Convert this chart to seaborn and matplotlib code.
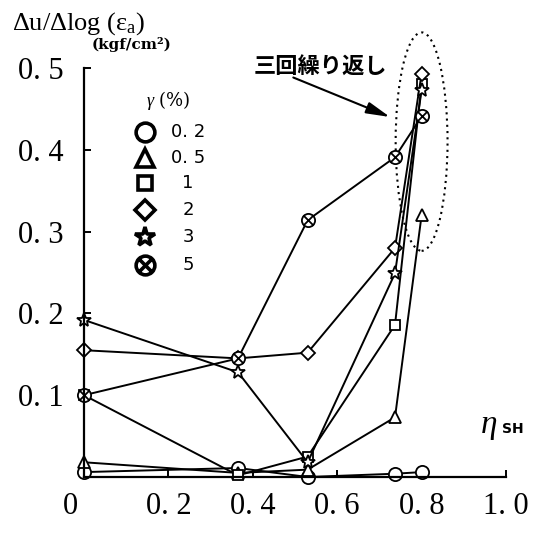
import numpy as np
import pandas as pd
import matplotlib
matplotlib.use("Agg")
import matplotlib.pyplot as plt
import matplotlib.transforms as mtransforms
from matplotlib.path import Path
from matplotlib.patches import Ellipse
from matplotlib.lines import Line2D
import seaborn as sns

# Shear strain amplitude γ (%) and the measured points (η_SH, Δu/Δlog(εa))
gamma_levels = ["0. 2", "0. 5", "1", "2", "3", "5"]
eta_points = [0.0, 0.365, 0.53, 0.737, 0.80]
du_g02 = [0.006, 0.011, 0.0, 0.004, 0.006]
du_g05 = [0.018, 0.005, 0.009, 0.073, 0.32]
du_g1 = [0.10, 0.002, 0.025, 0.186, 0.48]
du_g2 = [0.155, 0.145, 0.152, 0.28, 0.493]
du_g3 = [0.192, 0.128, 0.018, 0.249, 0.473]
du_g5 = [0.10, 0.145, 0.314, 0.391, 0.441]

x_ticks = [0, 0.2, 0.4, 0.6, 0.8, 1.0]
x_ticklabels = ["0", "0. 2", "0. 4", "0. 6", "0. 8", "1. 0"]
y_ticks = [0.1, 0.2, 0.3, 0.4, 0.5]
y_ticklabels = ["0. 1", "0. 2", "0. 3", "0. 4", "0. 5"]

series = [du_g02, du_g05, du_g1, du_g2, du_g3, du_g5]
df = pd.DataFrame({
    "gamma": np.repeat(gamma_levels, len(eta_points)),
    "eta": eta_points * len(gamma_levels),
    "du": np.concatenate(series),
})

# circle with a cross inside (⊗)
_c = Path.unit_circle()
_k = 0.7071
otimes = Path(
    np.concatenate([_c.vertices, [[-_k, -_k], [_k, _k], [-_k, _k], [_k, -_k]]]),
    np.concatenate([_c.codes, [Path.MOVETO, Path.LINETO, Path.MOVETO, Path.LINETO]]),
)

markers = ["o", "^", "s", "D", "*", otimes]
plot_sizes = [9.5, 8.5, 7.5, 7.0, 10.0, 9.5]
legend_sizes = [13.5, 12.5, 9.5, 10.0, 14.5, 13.5]

sns.set_theme(style="white")
plt.rcParams["font.family"] = ["Liberation Serif", "Noto Sans CJK JP"]
plt.rcParams["mathtext.fontset"] = "custom"
plt.rcParams["mathtext.rm"] = "Liberation Serif"
plt.rcParams["mathtext.it"] = "Liberation Serif:italic"

W, H = 549, 533
fig = plt.figure(figsize=(W / 100, H / 100), dpi=100)
ax = fig.add_axes([84 / W, 56 / H, 422 / W, 409 / H])

for g, m, ms in zip(gamma_levels, markers, plot_sizes):
    sub = df[df["gamma"] == g]
    sns.lineplot(
        data=sub, x="eta", y="du", ax=ax, color="black", lw=1.4,
        marker=m, markersize=ms, markerfacecolor="white",
        markeredgecolor="black", markeredgewidth=1.3,
        estimator=None, sort=False, legend=False, clip_on=False,
    )

ax.set_xlim(0, 1.0)
ax.set_ylim(0, 0.5)
ax.set_xticks(x_ticks)
ax.set_xticklabels(x_ticklabels)
ax.set_yticks(y_ticks)
ax.set_yticklabels(y_ticklabels)
ax.set_xlabel("")
ax.set_ylabel("")
ax.tick_params(axis="both", direction="in", length=5, width=1.4,
               colors="black", labelsize=22, bottom=True, left=True)
ax.tick_params(axis="x", pad=11)
ax.tick_params(axis="y", pad=15)
for s in ["top", "right"]:
    ax.spines[s].set_visible(False)
for s in ["left", "bottom"]:
    ax.spines[s].set_color("black")
    ax.spines[s].set_linewidth(1.6)

# nudge the "0" on the horizontal axis to the left of the origin
zero_lbl = ax.get_xticklabels()[0]
zero_lbl.set_transform(zero_lbl.get_transform() +
                       mtransforms.ScaledTranslation(-14 / 100, 0, fig.dpi_scale_trans))

# dotted ring around the repeated-loading points
ax.add_patch(Ellipse((0.80, 0.41), 0.123, 0.267, fill=False, lw=1.5,
                     ls=(0, (1, 2)), color="black", clip_on=False))


def fx(px):
    return px / W


def fy(py):
    return 1 - py / H


fig.text(fx(12), fy(24), r"Δu/Δlog (ε$_{\mathrm{a}}$)", fontsize=19,
         ha="left", va="center", color="black")
fig.text(fx(132), fy(45), "(kgf/cm²)", fontsize=11, fontweight="bold",
         family="DejaVu Serif", ha="center", va="center", color="black")

ax.annotate("三回繰り返し", xy=(fx(390), fy(117)), xycoords="figure fraction",
            xytext=(fx(320), fy(66)), textcoords="figure fraction",
            fontsize=16, family=["Noto Sans CJK JP"], fontweight="bold",
            ha="center", va="center", color="black",
            arrowprops=dict(arrowstyle="-|>,head_length=0.9,head_width=0.22",
                            lw=1.5, color="black", shrinkA=0, shrinkB=0,
                            patchA=None, relpos=(0.3, 0.0)))

fig.text(fx(480), fy(433), r"$\eta$", fontsize=24, ha="left", va="baseline",
         color="black", family="Liberation Serif")
fig.text(fx(502), fy(433), "SH", fontsize=10, fontweight="bold",
         family="DejaVu Sans", ha="left", va="baseline", color="black")

# legend block
fig.text(fx(168), fy(100), r"$\gamma$ (%)", fontsize=13, ha="center",
         va="center", color="black", family="DejaVu Serif")
row_y = [132, 158, 183, 210, 237, 265]
for lbl, m, ms, py in zip(gamma_levels, markers, legend_sizes, row_y):
    fig.add_artist(Line2D([fx(145)], [fy(py)], transform=fig.transFigure,
                          marker=m, markersize=ms, markerfacecolor="white",
                          markeredgecolor="black", markeredgewidth=2.6,
                          linestyle="none"))
    fig.text(fx(188), fy(py), lbl, fontsize=13, ha="center", va="center",
             family="DejaVu Sans", color="black")

fig.savefig("out.png", dpi=100)
